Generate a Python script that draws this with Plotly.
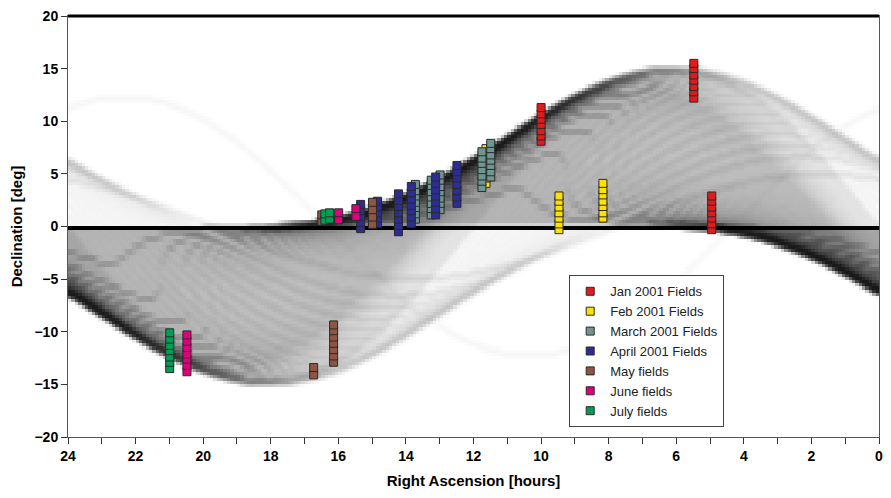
import numpy as np
import plotly.graph_objects as go

# ---------------- Field data (RA hours, Dec cells in degrees) ----------------
jan_ra = [10.0, 5.48, 4.95]
jan_dec = [[8.1, 8.6, 9.1, 9.7, 10.2, 10.7, 11.3],
           [12.2, 12.8, 13.3, 13.9, 14.4, 15.0, 15.5],
           [-0.3, 0.25, 0.8, 1.3, 1.85, 2.4, 2.9]]

feb_ra = [11.63, 9.47, 8.17]
feb_dec = [[4.1, 4.6, 5.2, 5.7, 6.3, 6.8, 7.4],
           [-0.3, 0.25, 0.8, 1.3, 1.85, 2.4, 2.9],
           [0.8, 1.3, 1.9, 2.4, 3.0, 3.5, 4.1]]

mar_ra = [13.72, 13.25, 12.99, 11.75, 11.49]
mar_dec = [[0.7, 1.2, 1.8, 2.3, 2.9, 3.4, 4.0],
           [1.1, 1.7, 2.2, 2.8, 3.3, 3.9, 4.4],
           [1.6, 2.2, 2.7, 3.3, 3.8, 4.4, 4.9],
           [3.7, 4.3, 4.8, 5.4, 6.0, 6.5, 7.1],
           [4.7, 5.2, 5.8, 6.3, 6.8, 7.4, 7.9]]

apr_ra = [15.34, 14.84, 14.22, 13.84, 13.12, 12.49]
apr_dec = [[-0.2, 0.37, 0.94, 1.5, 2.1],
           [0.3, 0.8, 1.3, 1.85, 2.4],
           [-0.5, 0.1, 0.7, 1.3, 1.9, 2.5, 3.1],
           [0.3, 0.9, 1.5, 2.0, 2.6, 3.2, 3.8],
           [1.1, 1.7, 2.3, 2.9, 3.5, 4.1, 4.7],
           [2.2, 2.8, 3.4, 4.0, 4.6, 5.2, 5.8]]

may_ra = [16.49, 14.99, 16.73, 16.14]
may_dec = [[0.5, 1.1],
           [0.2, 0.9, 1.6, 2.3],
           [-14.1, -13.4],
           [-12.9, -12.3, -11.7, -11.1, -10.5, -9.9, -9.35]]

jun_ra = [15.99, 15.48, 20.48]
jun_dec = [[0.66, 1.3],
           [0.95, 1.7],
           [-13.8, -13.2, -12.6, -12.1, -11.5, -10.9, -10.3]]

jul_ra = [16.4, 16.26, 20.99]
jul_dec = [[0.6, 1.2],
           [0.7, 1.3],
           [-13.5, -12.9, -12.4, -11.8, -11.3, -10.7, -10.1]]

# ---------------- Background orbit population (node RA [h], inclination [deg], weight) ----------------
main_node_h = [0.000, 0.140, 0.280, 0.421, 0.562, 0.703, 0.845, 0.989, 1.133, 1.279,
               1.426, 1.575, 1.725, 1.877, 2.031, 2.187, 2.345, 2.506, 2.669, 2.834,
               3.001, 3.173, 3.345, 3.521, 3.700, 3.881, 4.065, 4.250, 4.438, 4.629,
               4.820, 5.014, 5.210, 5.405, 5.603, 5.802]
main_incl = [15.00, 14.98, 14.93, 14.83, 14.71, 14.54, 14.35, 14.11, 13.85, 13.56,
             13.23, 12.88, 12.50, 12.10, 11.68, 11.23, 10.77, 10.29, 9.80, 9.29,
             8.77, 8.24, 7.71, 7.17, 6.62, 6.07, 5.52, 4.97, 4.41, 3.86,
             3.31, 2.75, 2.20, 1.65, 1.10, 0.55]
main_weight = [0.35, 0.35, 0.35, 0.35, 0.4, 0.45, 0.5, 0.6, 0.7, 0.85] + [1.0] * 26

faint_node_h = [23.720, 23.438, 23.155, 22.867, 22.574, 22.275, 21.969, 21.655,
                21.331, 20.999, 20.655, 20.300, 19.750, 16.33]
faint_incl = [14.93, 14.71, 14.35, 13.85, 13.23, 12.50, 11.68, 10.77,
              9.80, 8.77, 7.71, 6.62, 4.97, 12.3]
faint_weight = [0.22] * 13 + [0.12]

equator_weight = 14.0

# ---------------- Build density image ----------------
ra_edges = np.linspace(0, 24, 241)
dec_edges = np.arange(-20.1, 20.1001, 0.3)
ra_fine = np.arange(0.005, 24, 0.01)


def curve(node, inc):
    return np.degrees(np.arctan(np.tan(np.radians(inc)) *
                                np.sin(np.radians((ra_fine - node) * 15.0))))


xs, ys, ws = [], [], []
for n_, i_, w_ in zip(main_node_h + faint_node_h, main_incl + faint_incl,
                      main_weight + faint_weight):
    xs.append(ra_fine)
    ys.append(curve(n_, i_))
    ws.append(np.full(ra_fine.size, w_))
H, _, _ = np.histogram2d(np.concatenate(ys), np.concatenate(xs),
                         bins=[dec_edges, ra_edges], weights=np.concatenate(ws))


def smooth(a, axis):
    p = np.pad(a, [(1, 1) if ax == axis else (0, 0) for ax in range(2)], mode="edge")
    if axis == 0:
        return 0.25 * p[:-2] + 0.5 * p[1:-1] + 0.25 * p[2:]
    return 0.25 * p[:, :-2] + 0.5 * p[:, 1:-1] + 0.25 * p[:, 2:]


Z = smooth(smooth(H, 0), 1)
He, _, _ = np.histogram2d(np.zeros(ra_fine.size), ra_fine, bins=[dec_edges, ra_edges],
                          weights=np.full(ra_fine.size, equator_weight))
Z = Z + He
dark = 1.0 - np.exp(-Z / 16.0)

ra_c = 0.5 * (ra_edges[:-1] + ra_edges[1:])
dec_c = 0.5 * (dec_edges[:-1] + dec_edges[1:])

fig = go.Figure()
fig.add_trace(go.Heatmap(x=ra_c, y=dec_c, z=dark, zmin=0, zmax=1,
                         colorscale=[[0, "white"], [1, "black"]],
                         showscale=False, hoverinfo="skip"))

# ---------------- Field markers ----------------
groups = [
    ("Feb 2001 Fields", feb_ra, feb_dec, "#FFE100", 2),
    ("March 2001 Fields", mar_ra, mar_dec, "#6F9691", 3),
    ("April 2001 Fields", apr_ra, apr_dec, "#2B2D92", 4),
    ("May fields", may_ra, may_dec, "#8C5642", 5),
    ("June fields", jun_ra, jun_dec, "#E0007E", 6),
    ("July fields", jul_ra, jul_dec, "#009E55", 7),
    ("Jan 2001 Fields", jan_ra, jan_dec, "#E01B1B", 1),
]
for name, ras, decs, col, rank in groups:
    x, y = [], []
    for r, cells in zip(ras, decs):
        x += [r] * len(cells)
        y += list(cells)
    fig.add_trace(go.Scatter(x=x, y=y, mode="markers", name=name, legendrank=rank,
                             marker=dict(symbol="square", size=8, color=col,
                                         line=dict(color="#2a2a2a", width=1)),
                             hoverinfo="skip"))

font_fam = "Liberation Sans, Arial, sans-serif"
fig.update_layout(
    width=891, height=498,
    margin=dict(l=68, r=8, t=15, b=61),
    paper_bgcolor="white", plot_bgcolor="white",
    font=dict(family=font_fam, color="black"),
    showlegend=True,
    legend=dict(x=0.618, y=0.384, xanchor="left", yanchor="top",
                bgcolor="white", bordercolor="#444", borderwidth=1,
                font=dict(family=font_fam, size=13, color="#222"),
                tracegroupgap=0, itemwidth=30),
    xaxis=dict(range=[24, 0], tick0=0, dtick=2, ticks="outside", ticklen=6,
               tickcolor="#333", showgrid=False, zeroline=False,
               showline=True, linecolor="#555", linewidth=1, mirror=True,
               minor=dict(dtick=1, ticks="outside", ticklen=6, tickcolor="#333"),
               tickfont=dict(size=14, weight="bold"),
               title=dict(text="<b>Right Ascension [hours]</b>", font=dict(size=15),
                          standoff=12)),
    yaxis=dict(range=[-20, 20], dtick=5, ticks="outside", ticklen=6,
               tickcolor="#333", showgrid=False, zeroline=False,
               showline=True, linecolor="#555", linewidth=1, mirror=True,
               tickfont=dict(size=14, weight="bold"),
               title=dict(text="<b>Declination [deg]</b>", font=dict(size=15),
                          standoff=8)),
    shapes=[dict(type="line", xref="paper", yref="paper", x0=0, x1=1, y0=1, y1=1,
                 line=dict(color="black", width=3))],
)

fig.write_html("out.html")
